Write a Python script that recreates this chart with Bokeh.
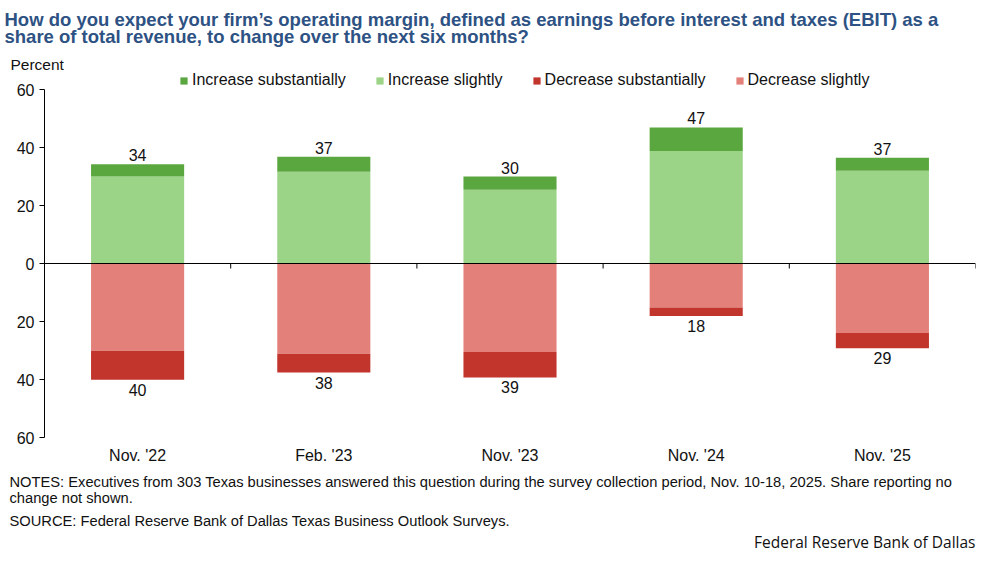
from bokeh.plotting import figure
from bokeh.models import (ColumnDataSource, Legend, LegendItem, Title, Span,
                          FactorRange, Range1d, FixedTicker)
from bokeh.embed import file_html
from bokeh.resources import INLINE
from bokeh.core.properties import value

# ---- data ----
categories = ["Nov. '22", "Feb. '23", "Nov. '23", "Nov. '24", "Nov. '25"]
increase_substantially = [4.2, 5.2, 4.6, 8.1, 4.5]
increase_slightly = [30.0, 31.6, 25.4, 38.8, 32.0]
decrease_substantially = [10.0, 6.5, 8.8, 2.9, 5.2]
decrease_slightly = [30.1, 31.1, 30.5, 15.2, 24.0]
increase_labels = ["34", "37", "30", "47", "37"]
decrease_labels = ["40", "38", "39", "18", "29"]
y_ticks = [-60, -40, -20, 0, 20, 40, 60]

FONT = "Liberation Sans"
C_INC_SUB = "#5ba73f"
C_INC_SL = "#9bd387"
C_DEC_SUB = "#c1352c"
C_DEC_SL = "#e3807a"
TITLE_C = "#2d5283"

BL, BR, BT = 44, 6, 60
FW = 931
PX = 2.9                  # pixels per percentage point
STRIP = 17                # legend strip at the top of the frame
FH = int(round(120 * PX + STRIP))
Y_END = -60 + FH / PX

src = ColumnDataSource(dict(
    cat=categories,
    inc_sl=increase_slightly,
    inc_sub=increase_substantially,
    dec_sl=[-v for v in decrease_slightly],
    dec_sub=[-v for v in decrease_substantially],
    inc_top=[a + b for a, b in zip(increase_slightly, increase_substantially)],
    dec_bot=[-(a + b) for a, b in zip(decrease_slightly, decrease_substantially)],
    inc_lab=increase_labels,
    dec_lab=decrease_labels,
))

p = figure(frame_width=FW, frame_height=FH, x_range=FactorRange(*categories),
           y_range=Range1d(-60, Y_END), output_backend="svg",
           toolbar_location=None, min_border_left=BL, min_border_right=BR,
           min_border_top=BT, min_border_bottom=0)
p.outline_line_color = None
p.xgrid.grid_line_color = None
p.ygrid.grid_line_color = None
p.background_fill_color = "white"

r_pos = p.vbar_stack(["inc_sl", "inc_sub"], x="cat", width=0.5, source=src,
                     color=[C_INC_SL, C_INC_SUB], line_color=None)
r_neg = p.vbar_stack(["dec_sl", "dec_sub"], x="cat", width=0.5, source=src,
                     color=[C_DEC_SL, C_DEC_SUB], line_color=None)

# zero line and category boundary ticks (5px long)
p.add_layout(Span(location=0, dimension="width", line_color="black", line_width=1))
tick_len = 5 / PX
bounds = list(range(1, len(categories) + 1))
p.segment(x0=bounds, y0=[0] * len(bounds), x1=bounds, y1=[-tick_len] * len(bounds),
          line_color="black", line_width=1)

# value labels
p.text(x="cat", y="inc_top", text="inc_lab", source=src, text_align="center",
       text_baseline="bottom", y_offset=-3, text_font=value(FONT),
       text_font_size="16px", text_color="#111111")
p.text(x="cat", y="dec_bot", text="dec_lab", source=src, text_align="center",
       text_baseline="top", y_offset=4, text_font=value(FONT),
       text_font_size="16px", text_color="#111111")

# axes
ya = p.yaxis[0]
ya.ticker = FixedTicker(ticks=y_ticks)
ya.bounds = (-60, 60)
ya.major_label_overrides = {t: str(abs(t)) for t in y_ticks}
ya.minor_tick_line_color = None
ya.major_tick_in = 0
ya.major_tick_out = 5
ya.axis_line_color = "black"
ya.major_tick_line_color = "black"
ya.major_label_text_font = FONT
ya.major_label_text_font_size = "16px"
ya.major_label_text_color = "#111111"
ya.major_label_standoff = 5

xa = p.xaxis[0]
xa.axis_line_color = None
xa.major_tick_line_color = None
xa.minor_tick_line_color = None
xa.major_label_text_font = FONT
xa.major_label_text_font_size = "16px"
xa.major_label_text_color = "#111111"
xa.major_label_standoff = 3

# legend in the strip at the top of the frame
LEG_H = 17
legend = Legend(items=[
    LegendItem(label="Increase substantially", renderers=[r_pos[1]]),
    LegendItem(label="Increase slightly", renderers=[r_pos[0]]),
    LegendItem(label="Decrease substantially", renderers=[r_neg[1]]),
    LegendItem(label="Decrease slightly", renderers=[r_neg[0]]),
], orientation="horizontal", location=(135, FH - LEG_H))
legend.background_fill_alpha = 0
legend.border_line_color = None
legend.padding = 0
legend.margin = 0
legend.spacing = 29
legend.glyph_width = 9
legend.glyph_height = 9
legend.label_standoff = 4
legend.label_height = LEG_H
legend.label_text_font = FONT
legend.label_text_font_size = "16px"
legend.label_text_color = "#111111"
p.add_layout(legend, "center")


def title(text, size="15px", bold=False, color="#111111", align="left", offset=0,
          standoff=0, lh=1.0, font=FONT):
    return Title(text=text, text_font=font, text_font_size=size,
                 text_font_style="bold" if bold else "normal",
                 text_color=color, align=align, offset=offset, standoff=standoff,
                 text_line_height=lh)


p.add_layout(title("Percent", size="15.5px", offset=-BL + 10, standoff=0), "above")
p.add_layout(title("How do you expect your firm\u2019s operating margin, defined as earnings before interest and taxes (EBIT) as a\n"
                   "share of total revenue, to change over the next six months?",
                   size="18.5px", bold=True, color=TITLE_C, offset=-BL + 4, standoff=12,
                   lh=0.84), "above")

p.add_layout(title("NOTES: Executives from 303 Texas businesses answered this question during the survey collection period, Nov. 10-18, 2025. Share reporting no\n"
                   "change not shown.", size="14.7px", offset=-BL + 9, standoff=10, lh=1.0), "below")
p.add_layout(title("SOURCE: Federal Reserve Bank of Dallas Texas Business Outlook Surveys.",
                   size="14.7px", offset=-BL + 9, standoff=0), "below")
p.add_layout(title("Federal Reserve Bank of Dallas", size="15.5px", align="right",
                   offset=0, standoff=0, font="Open Sans"), "below")

open("out.html", "w").write(file_html(p, INLINE))
